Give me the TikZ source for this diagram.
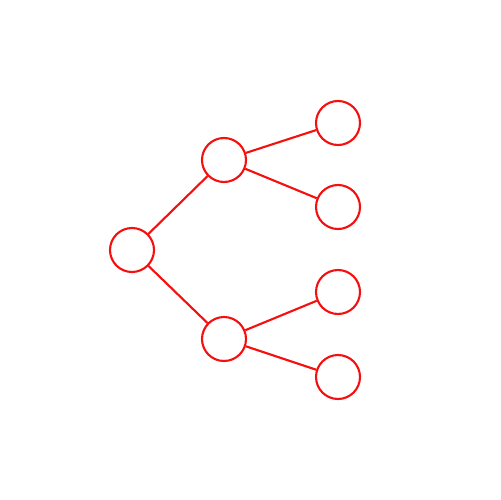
\documentclass[tikz,border=0pt]{standalone}
\definecolor{netred}{RGB}{245,15,15}
\tikzset{dot/.style={circle,draw=netred,line width=1.2pt,minimum size=0.88cm,inner sep=0pt},
link/.style={draw=netred,line width=1.2pt}}
\begin{document}
\begin{tikzpicture}[x=0.02cm,y=-0.02cm]
\useasboundingbox[fill=white] (0,0) rectangle (500,500);
\node[dot] (r) at (132,250) {};
\node[dot] (a) at (224,160) {};
\node[dot] (b) at (224,339) {};
\node[dot] (a1) at (338,123) {};
\node[dot] (a2) at (338,207) {};
\node[dot] (b1) at (338,292) {};
\node[dot] (b2) at (338,377) {};
\draw[link] (r) -- (a);
\draw[link] (r) -- (b);
\draw[link] (a) -- (a1);
\draw[link] (a) -- (a2);
\draw[link] (b) -- (b1);
\draw[link] (b) -- (b2);
\end{tikzpicture}
\end{document}
